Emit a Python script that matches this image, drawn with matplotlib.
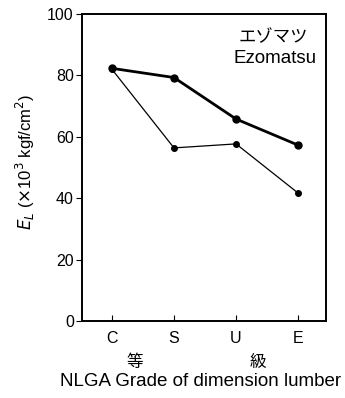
import matplotlib.pyplot as plt

plt.rcParams["font.family"] = ["Liberation Sans", "Noto Sans CJK JP"]

grades = ["C", "S", "U", "E"]
el_thick = [82.3, 79.3, 65.8, 57.3]
el_thin = [82.0, 56.4, 57.7, 41.7]

fig = plt.figure(figsize=(3.45, 3.98), dpi=100)
ax = fig.add_axes([0.238, 0.193, 0.707, 0.772])

x = range(len(grades))
ax.plot(x, el_thin, color="black", linewidth=0.9, marker="o", markersize=4)
ax.plot(x, el_thick, color="black", linewidth=2.0, marker="o", markersize=5)

ax.set_xlim(-0.48, 3.45)
ax.set_ylim(0, 100)
ax.set_yticks([0, 20, 40, 60, 80, 100])
ax.set_xticks(list(x))
ax.set_xticklabels(grades)
ax.tick_params(axis="x", direction="in", length=4, labelsize=11.5, pad=7)
ax.tick_params(axis="y", direction="out", length=4, labelsize=11.5, pad=2)
for s in ax.spines.values():
    s.set_linewidth(1.4)

ax.text(0.925, 0.925, "エゾマツ", transform=ax.transAxes, ha="right", va="center",
        fontsize=12.5, family="Noto Sans CJK JP")
ax.text(0.96, 0.855, "Ezomatsu", transform=ax.transAxes, ha="right", va="center",
        fontsize=13.5)

ax.set_ylabel(r"$\mathbf{\mathit{E_L}}$ ($\times$10$^3$ kgf/cm$^2$)", fontsize=12,
              va="center")
ax.yaxis.set_label_coords(-0.234, 0.518)

fig.text(135 / 345, 1 - 362 / 398, "等", ha="center", va="center", fontsize=12,
         family="Noto Sans CJK JP")
fig.text(258 / 345, 1 - 362 / 398, "級", ha="center", va="center", fontsize=12,
         family="Noto Sans CJK JP")
fig.text(201 / 345, 1 - 382 / 398, "NLGA Grade of dimension lumber", ha="center",
         va="center", fontsize=13.5)

fig.savefig("out.png", dpi=100)
